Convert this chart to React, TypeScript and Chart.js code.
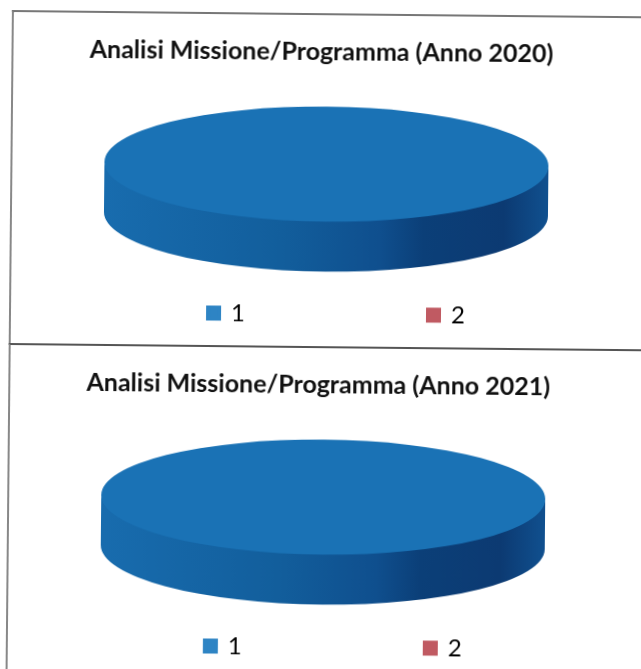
import React, { useEffect, useRef } from "react";
import { Chart, registerables } from "chart.js";

Chart.register(...registerables);

const categories = ["1", "2"];
const values2020 = [100, 0];
const values2021 = [100, 0];
const title2020 = "Analisi Missione/Programma (Anno 2020)";
const title2021 = "Analisi Missione/Programma (Anno 2021)";
const sliceColors = ["#1a72b5", "#c0504d"];
const legendColors = ["#2e84c4", "#c05a62"];
const sideStops: [number, string][] = [
  [0, "#186cae"],
  [0.4, "#125e9c"],
  [0.62, "#0f4f8e"],
  [0.72, "#0b3f78"],
  [0.9, "#0c3a72"],
  [1, "#10508f"],
];

const PIE = { cx: 316, cy: 151, rx: 222, ry: 57.5, depth: 50 };
const LEGEND = { top: 289, shift: 12.5, gap: 183 };
const TITLE_SHIFT = -5;

const pie3d = {
  id: "pie3d",
  afterLayout(chart: any) {
    const legend = chart.legend;
    if (legend) {
      legend.top = LEGEND.top - LEGEND.gap;
      legend.height = LEGEND.gap + 40;
      legend.bottom = legend.top + legend.height;
      legend.left += LEGEND.shift;
      legend.right += LEGEND.shift;
    }
    const title = chart.titleBlock;
    if (title) {
      title.left += TITLE_SHIFT;
      title.right += TITLE_SHIFT;
    }
  },
  beforeDatasetsDraw(chart: any) {
    const { ctx } = chart;
    const { cx, cy, rx, ry, depth } = PIE;
    const g = ctx.createLinearGradient(cx - rx, 0, cx + rx, 0);
    sideStops.forEach(([o, c]) => g.addColorStop(o, c));
    ctx.save();
    ctx.beginPath();
    ctx.ellipse(cx, cy - 1.5, rx, ry, 0, 0, Math.PI, false);
    ctx.lineTo(cx - rx, cy + depth);
    ctx.ellipse(cx, cy + depth, rx, ry, 0, Math.PI, 0, true);
    ctx.closePath();
    ctx.fillStyle = g;
    ctx.fill();
    ctx.restore();
  },
  beforeDatasetDraw(chart: any) {
    const a = chart.getDatasetMeta(0).data[0];
    const { ctx } = chart;
    ctx.save();
    ctx.translate(PIE.cx, PIE.cy);
    ctx.scale(PIE.rx / a.outerRadius, PIE.ry / a.outerRadius);
    ctx.translate(-a.x, -a.y);
  },
  afterDatasetDraw(chart: any) {
    chart.ctx.restore();
  },
};

function PieBlock({ title, values, top }: { title: string; values: number[]; top: number }) {
  const ref = useRef<HTMLCanvasElement | null>(null);
  useEffect(() => {
    const chart = new Chart(ref.current as HTMLCanvasElement, {
      type: "pie",
      data: {
        labels: categories,
        datasets: [{ data: values, backgroundColor: sliceColors, borderWidth: 0 }],
      },
      options: {
        animation: false,
        responsive: false,
        events: [],
        plugins: {
          tooltip: { enabled: false },
          title: {
            display: true,
            text: title,
            color: "#111",
            font: { family: "Lato", weight: "bold", size: 25 },
            padding: { top: 24, bottom: 10 },
          },
          legend: {
            position: "bottom",
            maxHeight: 40,
            labels: {
              boxWidth: 11,
              boxHeight: 11,
              padding: LEGEND.gap,
              color: "#111",
              font: { family: "Lato", size: 24 },
              generateLabels: () =>
                categories.map((text, index) => ({
                  text,
                  index,
                  fillStyle: legendColors[index],
                  strokeStyle: legendColors[index],
                  lineWidth: 4,
                  hidden: false,
                })),
            },
          },
        },
      },
      plugins: [pie3d],
    } as any);
    return () => chart.destroy();
  }, []);
  return (
    <div
      style={{
        position: "absolute",
        left: 12,
        top,
        width: 660,
        height: 333,
        borderTop: top < 100 ? "2px solid #777" : "2px solid #555",
        borderLeft: "2px solid #888",
        boxSizing: "border-box",
      }}
    >
      <canvas
        ref={ref}
        width={630}
        height={333}
        style={{ position: "absolute", left: -2, top: -2, display: "block" }}
      />
    </div>
  );
}

export default function App() {
  useEffect(() => {
    document.body.style.margin = "0";
    document.body.style.background = "#fff";
  }, []);
  return (
    <div style={{ position: "absolute", left: 0, top: 0, width: 641, height: 669, overflow: "hidden", background: "#fff" }}>
      <div style={{ position: "absolute", left: 0, top: 0, width: 700, height: 700, transform: "rotate(0.55deg)", transformOrigin: "0 0" }}>
        <PieBlock title={title2020} values={values2020} top={10} />
        <PieBlock title={title2021} values={values2021} top={343} />
      </div>
    </div>
  );
}
